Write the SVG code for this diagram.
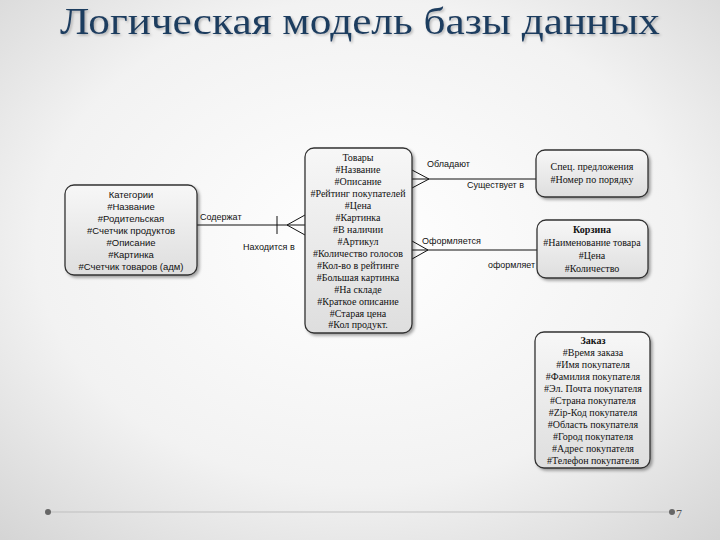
<svg xmlns="http://www.w3.org/2000/svg" width="720" height="540" viewBox="0 0 720 540">
<defs>
<radialGradient id="bg" cx="50%" cy="45%" r="75%">
<stop offset="0" stop-color="#ffffff"/>
<stop offset="0.6" stop-color="#f2f2f2"/>
<stop offset="1" stop-color="#d4d4d4"/>
</radialGradient>
<linearGradient id="box" x1="0" y1="0" x2="0" y2="1">
<stop offset="0" stop-color="#f7f7f7"/>
<stop offset="1" stop-color="#dedede"/>
</linearGradient>
<filter id="sh" x="-10%" y="-10%" width="130%" height="130%">
<feDropShadow dx="2" dy="2" stdDeviation="1.5" flood-color="#000" flood-opacity="0.35"/>
</filter>
<filter id="tsh" x="-5%" y="-20%" width="110%" height="150%">
<feDropShadow dx="1.5" dy="1.5" stdDeviation="1" flood-color="#000" flood-opacity="0.25"/>
</filter>
</defs>
<style>
.ent{fill:url(#box);stroke:#333;stroke-width:1.3;filter:url(#sh)}
.t{font-family:"Liberation Serif","Times New Roman",serif;font-size:10px;fill:#111;text-anchor:middle}
.ts{font-family:"Liberation Sans",Arial,sans-serif;font-size:9.5px;fill:#111;text-anchor:middle}
.lbl{font-family:"Liberation Sans",Arial,sans-serif;font-size:9px;fill:#111}
.c{stroke:#111;stroke-width:1;fill:none}
</style>
<rect width="720" height="540" fill="url(#bg)"/>
<text x="360" y="34" font-family="'Liberation Serif','Times New Roman',serif" font-size="38" fill="#1f3c5e" text-anchor="middle" textLength="600" lengthAdjust="spacingAndGlyphs" filter="url(#tsh)">Логическая модель базы данных</text>

<g id="connectors">
<line class="c" x1="197" y1="225" x2="305" y2="225"/>
<line class="c" x1="277" y1="216" x2="277" y2="234"/>
<line class="c" x1="287" y1="225" x2="305" y2="215"/>
<line class="c" x1="287" y1="225" x2="305" y2="235"/>
<text class="lbl" x="200" y="220">Содержат</text>
<text class="lbl" x="243" y="250">Находится в</text>

<line class="c" x1="412" y1="179" x2="536" y2="179"/>
<line class="c" x1="429" y1="179" x2="412" y2="170"/>
<line class="c" x1="429" y1="179" x2="412" y2="188"/>
<text class="lbl" x="427" y="167">Обладают</text>
<text class="lbl" x="467" y="188">Существует в</text>

<line class="c" x1="412" y1="250" x2="537" y2="250"/>
<line class="c" x1="428" y1="250" x2="412" y2="241"/>
<line class="c" x1="428" y1="250" x2="412" y2="259"/>
<text class="lbl" x="422" y="244">Оформляется</text>
<text class="lbl" x="488" y="268" textLength="47" lengthAdjust="spacingAndGlyphs">оформляет</text>
</g>

<g id="kategorii">
<rect class="ent" x="65" y="185" width="132" height="90" rx="9"/>
<text class="ts" x="131" y="198">Категории</text>
<text class="ts" x="131" y="210">#Название</text>
<text class="ts" x="131" y="222">#Родительская</text>
<text class="ts" x="131" y="234">#Счетчик продуктов</text>
<text class="ts" x="131" y="246">#Описание</text>
<text class="ts" x="131" y="258">#Картинка</text>
<text class="ts" x="131" y="270">#Счетчик товаров (адм)</text>
</g>

<g id="tovary">
<rect class="ent" x="305" y="148" width="107" height="185" rx="9"/>
<text class="t" x="358" y="161">Товары</text>
<text class="t" x="358" y="173">#Название</text>
<text class="t" x="358" y="185">#Описание</text>
<text class="t" x="358" y="197">#Рейтинг покупателей</text>
<text class="t" x="358" y="209">#Цена</text>
<text class="t" x="358" y="221">#Картинка</text>
<text class="t" x="358" y="233">#В наличии</text>
<text class="t" x="358" y="245">#Артикул</text>
<text class="t" x="358" y="257">#Количество голосов</text>
<text class="t" x="358" y="269">#Кол-во в рейтинге</text>
<text class="t" x="358" y="281">#Большая картинка</text>
<text class="t" x="358" y="293">#На складе</text>
<text class="t" x="358" y="305">#Краткое описание</text>
<text class="t" x="358" y="317">#Старая цена</text>
<text class="t" x="358" y="328">#Кол продукт.</text>
</g>

<g id="spec">
<rect class="ent" x="536" y="150" width="112" height="47" rx="9"/>
<text class="t" x="592" y="170">Спец. предложения</text>
<text class="t" x="592" y="183">#Номер по порядку</text>
</g>

<g id="korzina">
<rect class="ent" x="537" y="220" width="111" height="58" rx="9"/>
<text class="t" x="592" y="233" font-weight="bold">Корзина</text>
<text class="t" x="592" y="246">#Наименование товара</text>
<text class="t" x="592" y="259">#Цена</text>
<text class="t" x="592" y="272">#Количество</text>
</g>

<g id="zakaz">
<rect class="ent" x="535" y="332" width="115" height="136" rx="9"/>
<text class="t" x="593" y="344" font-weight="bold">Заказ</text>
<text class="t" x="593" y="356">#Время заказа</text>
<text class="t" x="593" y="368">#Имя покупателя</text>
<text class="t" x="593" y="380">#Фамилия покупателя</text>
<text class="t" x="593" y="392">#Эл. Почта покупателя</text>
<text class="t" x="593" y="404">#Страна покупателя</text>
<text class="t" x="593" y="416">#Zip-Код покупателя</text>
<text class="t" x="593" y="428">#Область покупателя</text>
<text class="t" x="593" y="440">#Город покупателя</text>
<text class="t" x="593" y="452">#Адрес покупателя</text>
<text class="t" x="593" y="464">#Телефон покупателя</text>
</g>

<g id="footer">
<line x1="48" y1="512" x2="672" y2="512" stroke="#bfbfbf" stroke-width="1"/>
<circle cx="48" cy="512" r="3" fill="#666"/>
<circle cx="672" cy="512" r="3" fill="#666"/>
<text x="676" y="518" font-family="'Liberation Serif',serif" font-size="12" fill="#555">7</text>
</g>
</svg>
